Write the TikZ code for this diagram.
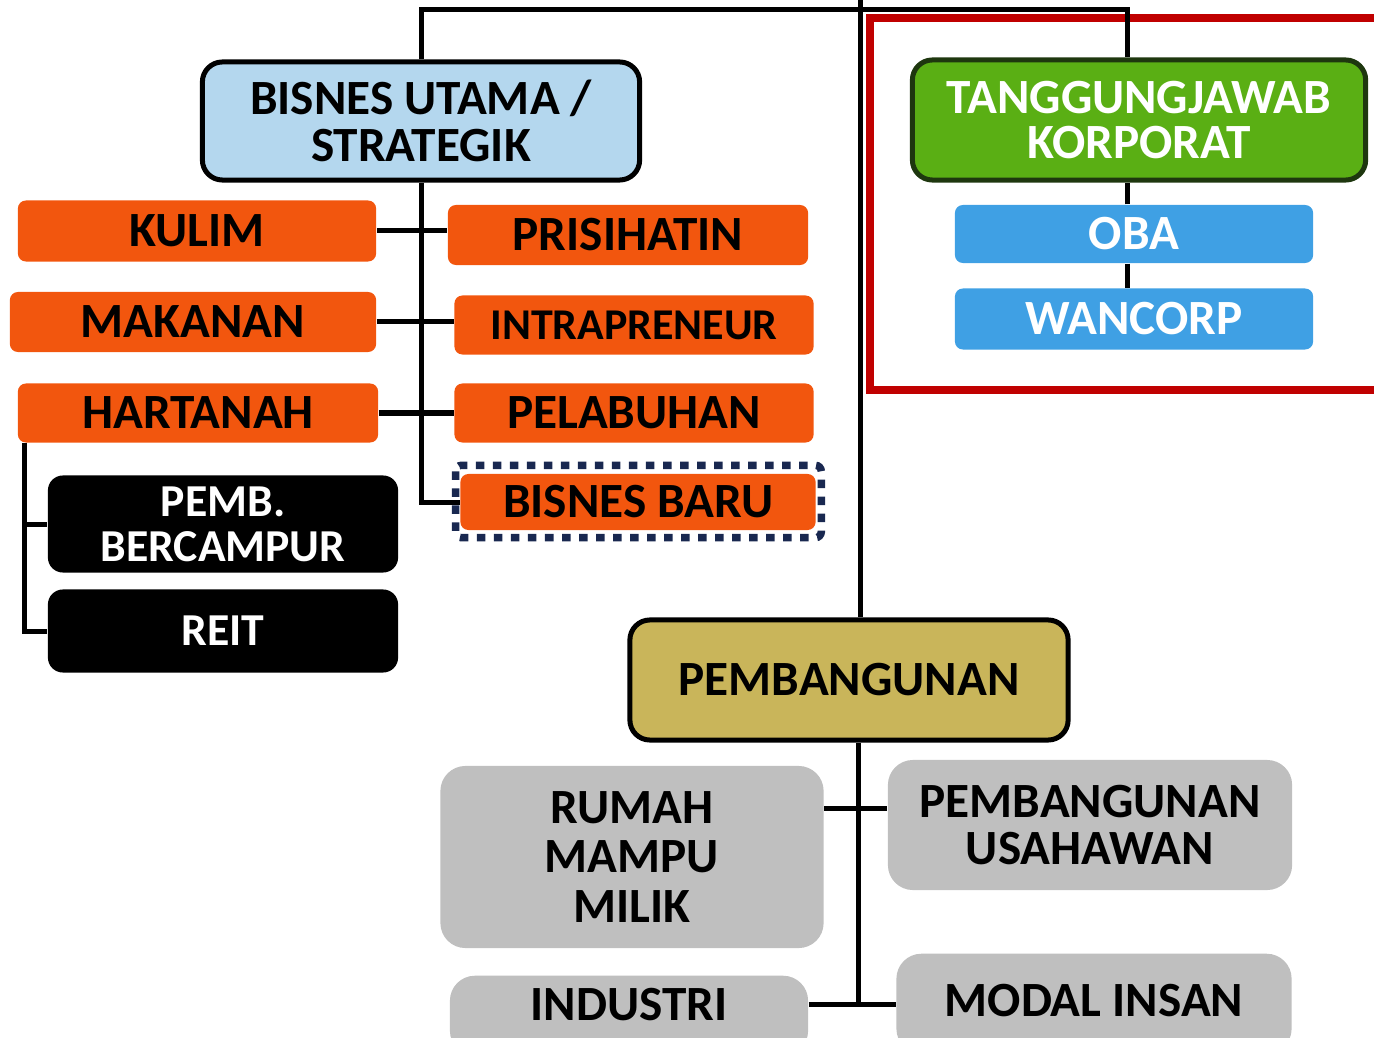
\documentclass[tikz,border=0pt]{standalone}
\usepackage{fontspec}
\setmainfont{Carlito}
\usepackage{xcolor}
\usepackage{tikz}

\definecolor{oren}{RGB}{242,86,14}
\definecolor{birumuda}{RGB}{180,215,238}
\definecolor{hijau}{RGB}{90,175,20}
\definecolor{hijaugelap}{RGB}{30,55,15}
\definecolor{biru}{RGB}{63,160,228}
\definecolor{khaki}{RGB}{201,181,90}
\definecolor{kelabu}{RGB}{191,191,191}
\definecolor{merah}{RGB}{192,0,0}
\definecolor{navy}{RGB}{25,40,80}

\tikzset{
	kotak/.style={rounded corners=0.08cm, inner sep=0pt, align=center, font=\bfseries\fontsize{14}{13.4}\selectfont},
	utama/.style={kotak, draw=black, line width=0.05cm, rounded corners=0.2cm},
	oranye/.style={kotak, fill=oren},
	hitam/.style={kotak, fill=black, text=white, rounded corners=0.15cm, font=\bfseries\fontsize{13}{12.8}\selectfont},
	kelabubox/.style={kotak, fill=kelabu, rounded corners=0.25cm},
	garis/.style={line width=0.05cm}
}

\begin{document}
\begin{tikzpicture}[x=0.01cm, y=-0.01cm]
				\useasboundingbox (0,0) rectangle (1374,1037);
				\clip (0,0) rectangle (1374,1037);

				% bingkai merah
				\draw[merah, line width=0.08cm] (870,18) rectangle (1400,390);

				\node[utama, fill=birumuda, minimum width=4.37cm, minimum height=1.18cm] (bisnes) at (421,121) {BISNES UTAMA /\\STRATEGIK};
				\node[utama, fill=hijau, draw=hijaugelap, text=white, minimum width=4.53cm, minimum height=1.2cm, font=\bfseries\fontsize{14}{13}\selectfont] (tanggung) at (1139,120) {TANGGUNGJAWAB\\KORPORAT};
				\node[utama, fill=khaki, minimum width=4.38cm, minimum height=1.2cm] (pembangunan) at (849,680) {PEMBANGUNAN};

				\node[oranye, minimum width=3.58cm, minimum height=0.61cm] (kulim) at (197,231) {KULIM};
				\node[oranye, minimum width=3.66cm, minimum height=0.6cm] (makanan) at (193,322) {MAKANAN};
				\node[oranye, minimum width=3.6cm, minimum height=0.59cm] (hartanah) at (198,413) {HARTANAH};
				\node[oranye, minimum width=3.6cm, minimum height=0.6cm] (prisihatin) at (628,235) {PRISIHATIN};
				\node[oranye, minimum width=3.59cm, minimum height=0.59cm, font=\bfseries\fontsize{12.5}{15}\selectfont] (intra) at (634,325) {INTRAPRENEUR};
				\node[oranye, minimum width=3.59cm, minimum height=0.59cm] (pelabuhan) at (634,413) {PELABUHAN};
				\node[oranye, minimum width=3.55cm, minimum height=0.56cm] (baru) at (638,502) {BISNES BARU};
				\draw[navy, line width=0.075cm, dash pattern=on 0.085cm off 0.085cm, rounded corners=0.06cm] ([shift={(-0.04cm,0.08cm)}]baru.north west) rectangle ([shift={(0.05cm,-0.07cm)}]baru.south east);

				\node[hitam, minimum width=3.5cm, minimum height=0.97cm] (pemb) at (223,524) {PEMB.\\BERCAMPUR};
				\node[hitam, minimum width=3.5cm, minimum height=0.83cm] (reit) at (223,631) {REIT};

				\node[kotak, fill=biru, text=white, minimum width=3.58cm, minimum height=0.58cm] (oba) at (1134,234) {OBA};
				\node[kotak, fill=biru, text=white, minimum width=3.58cm, minimum height=0.61cm] (wancorp) at (1134,319) {WANCORP};

				\node[kelabubox, minimum width=3.83cm, minimum height=1.82cm, font=\bfseries\fontsize{14}{14.2}\selectfont] (rumah) at (632,857) {RUMAH\\MAMPU\\MILIK};
				\node[kelabubox, minimum width=4.04cm, minimum height=1.3cm] (usahawan) at (1090,825) {PEMBANGUNAN\\USAHAWAN};
				\node[kelabubox, minimum width=3.58cm, minimum height=0.8cm, anchor=north] (industri) at (629,975) {};
				\node[kotak] (industriteks) at (629,1005) {INDUSTRI};
				\node[kelabubox, minimum width=3.95cm, minimum height=1.0cm, anchor=north] (modal) at (1094,953) {};
				\node[kotak] (modalteks) at (1094,1001) {MODAL INSAN};

				% penyambung
				\coordinate (atas) at (860,10);
				\coordinate (puncak) at (860,0);
				\coordinate (j1) at (858,808);
				\coordinate (j2) at (858,1004);
				\draw[garis] (bisnes.north) |- (atas) -| ([xshift=-0.12cm]tanggung.north);
				\draw[garis] (puncak) -- (puncak |- pembangunan.north);
				\draw[garis] (bisnes.south) |- (baru.west);
				\draw[garis] (kulim.east) -- (kulim.east -| prisihatin.west);
				\draw[garis] (makanan.east) -- (makanan.east -| intra.west);
				\draw[garis] (hartanah.east) -- (pelabuhan.west);
				\draw[garis] ([xshift=0.07cm]hartanah.south west) |- (pemb.west);
				\draw[garis] ([xshift=0.07cm]hartanah.south west) |- (reit.west);
				\draw[garis] ([xshift=-0.07cm]oba.north) -- ([xshift=-0.07cm]oba.north |- tanggung.south);
				\draw[garis] ([xshift=-0.07cm]oba.south) -- ([xshift=-0.07cm]wancorp.north);
				\draw[garis] (j2 |- pembangunan.south) -- (j2);
				\draw[garis] (rumah.east |- j1) -- (usahawan.west |- j1);
				\draw[garis] (industri.east |- j2) -- (modal.west |- j2);
			\end{tikzpicture}
\end{document}
